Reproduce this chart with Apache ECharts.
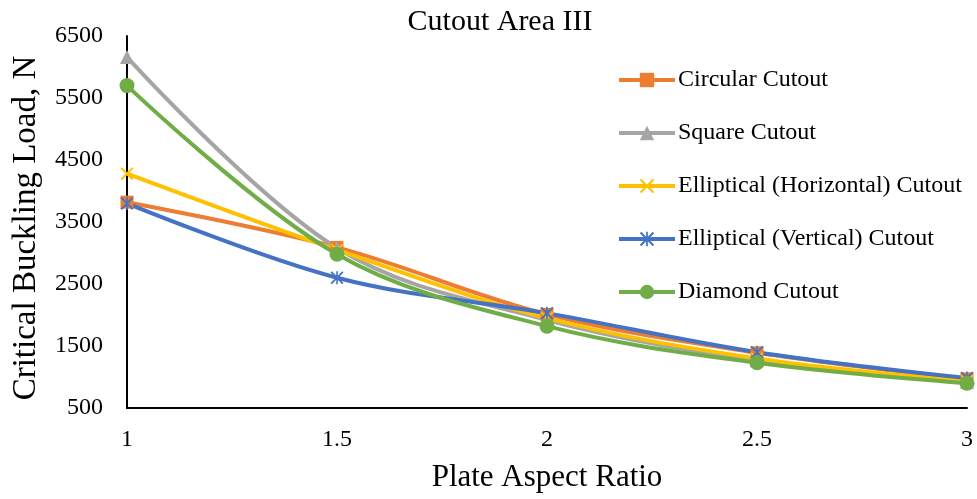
<!DOCTYPE html>
<html>
<head>
<meta charset="utf-8">
<script src="https://cdn.jsdelivr.net/npm/echarts@6/dist/echarts.min.js"></script>
<style>html,body{margin:0;padding:0;background:#fff}#c{width:977px;height:499px}</style>
</head>
<body>
<div id="c"></div>
<script>
const ratios = [1, 1.5, 2, 2.5, 3];
const circular = [3820, 3090, 2010, 1390, 970];
const square = [6160, 3080, 1920, 1270, 920];
const ellipH = [4280, 3050, 1950, 1300, 935];
const ellipV = [3800, 2600, 2030, 1400, 985];
const diamond = [5700, 2980, 1820, 1230, 900];
const seriesNames = ['Circular Cutout', 'Square Cutout', 'Elliptical (Horizontal) Cutout', 'Elliptical (Vertical) Cutout', 'Diamond Cutout'];
const yTicks = [500, 1500, 2500, 3500, 4500, 5500, 6500];

const font = '"Liberation Serif", "Times New Roman", serif';
const xPath = 'path://M0,1 L1,0 L5,4 L9,0 L10,1 L6,5 L10,9 L9,10 L5,6 L1,10 L0,9 L4,5 Z';
const starPath = 'path://M0,1 L1,0 L5,4 L9,0 L10,1 L6,5 L10,9 L9,10 L5,6 L1,10 L0,9 L4,5 Z M4.4,0 L5.6,0 L5.6,10 L4.4,10 Z';

function pts(arr) { return ratios.map((r, i) => [r, arr[i]]); }
function mk(name, data, color, symbol, size) {
  return {
    name, type: 'line', data: pts(data), smooth: 0.35,
    symbol, symbolSize: size,
    lineStyle: { color, width: 4 },
    itemStyle: { color },
    emphasis: { disabled: true }
  };
}
const chart = echarts.init(document.getElementById('c'), null, { renderer: 'canvas' });
chart.setOption({
  animation: false,
  backgroundColor: '#fff',
  title: {
    text: 'Cutout Area III', left: 495, textAlign: 'center', top: 2,
    textStyle: { fontFamily: font, fontSize: 30, fontWeight: 'normal', color: '#000' }
  },
  legend: {
    orient: 'vertical', left: 612, top: 63, itemGap: 29, itemWidth: 56, itemHeight: 18,
    lineStyle: { width: 4 },
    textStyle: { fontFamily: font, fontSize: 24, color: '#000', padding: [0, 0, 0, -2] },
    data: seriesNames
  },
  grid: { left: 127, right: 10, top: 36, bottom: 91, outerBoundsMode: 'none', containLabel: false },
  xAxis: {
    type: 'value', min: 1, max: 3, interval: 0.5,
    name: 'Plate Aspect Ratio', nameLocation: 'middle', nameGap: 54,
    nameTextStyle: { fontFamily: font, fontSize: 31, color: '#000' },
    axisLine: { lineStyle: { color: '#000', width: 2 } },
    axisTick: { show: false },
    splitLine: { show: false },
    axisLabel: { fontFamily: font, fontSize: 24, color: '#000', margin: 20 }
  },
  yAxis: {
    type: 'value', min: yTicks[0], max: yTicks[yTicks.length - 1], interval: 1000,
    name: 'Critical Buckling Load, N', nameLocation: 'middle', nameGap: 84,
    nameTextStyle: { fontFamily: font, fontSize: 33, color: '#000', padding: [0, 12, 0, 0] },
    axisLine: { show: true, lineStyle: { color: '#000', width: 2 } },
    axisTick: { show: false },
    splitLine: { show: false },
    axisLabel: { fontFamily: font, fontSize: 24, color: '#000', margin: 24, formatter: v => String(v) }
  },
  series: [
    mk(seriesNames[0], circular, '#ED7D31', 'rect', 13),
    mk(seriesNames[1], square, '#A5A5A5', 'triangle', 14),
    mk(seriesNames[2], ellipH, '#FFC000', xPath, 13),
    mk(seriesNames[3], ellipV, '#4472C4', starPath, 13),
    mk(seriesNames[4], diamond, '#70AD47', 'circle', 15)
  ]
});
</script>
</body>
</html>
